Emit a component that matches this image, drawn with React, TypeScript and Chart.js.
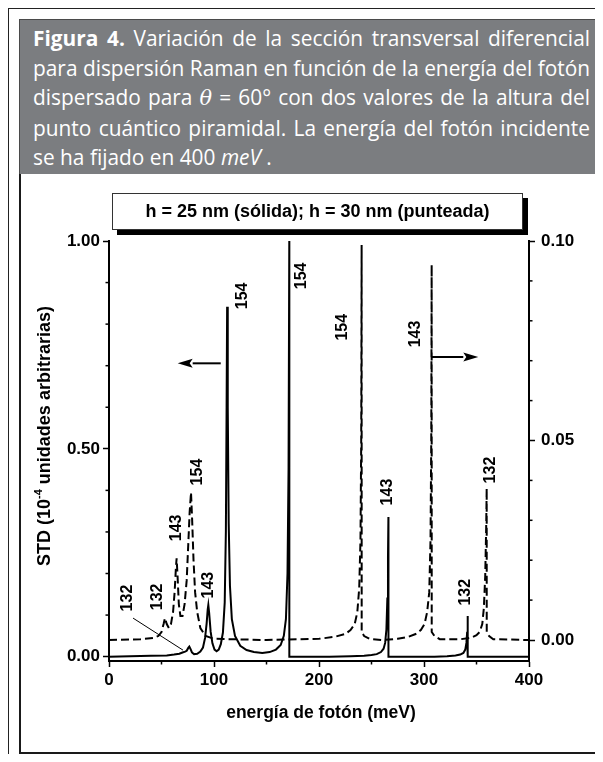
import React, { useEffect, useLayoutEffect, useRef, useState } from 'react';
import { Chart, registerables } from 'chart.js';
Chart.register(...registerables);

// ---- h = 25 nm (solid line, left axis, 10^-4 arb. units) ----
const solidEnergy = [0, 20, 40, 55, 62, 67, 70, 72.5, 74, 75.5, 76.5, 77.7, 79, 81, 84, 87, 89.5, 91.5, 93, 94, 94.6, 95.4, 96.8, 98.5, 100.5, 102.5, 104.5, 106.5, 108.5, 110.2, 111.3, 112, 112.5, 113.1, 114, 115.2, 117, 120, 125, 131, 138, 146, 153, 159, 163.5, 166.5, 168.5, 170, 171, 171.7, 171.75, 185, 210, 230, 243, 250, 255, 259, 261.5, 263, 264.2, 265.1, 265.7, 266.1, 266.15, 290, 310, 322, 330, 334.5, 337.5, 339.3, 340.4, 341.1, 341.6, 341.65, 400];
const solidSTD = [0, 0.001, 0.002, 0.003, 0.005, 0.007, 0.01, 0.012, 0.014, 0.021, 0.024, 0.018, 0.01, 0.006, 0.007, 0.012, 0.022, 0.045, 0.08, 0.113, 0.124, 0.105, 0.06, 0.032, 0.017, 0.013, 0.017, 0.03, 0.058, 0.13, 0.3, 0.6, 0.842, 0.6, 0.32, 0.17, 0.09, 0.05, 0.026, 0.016, 0.011, 0.009, 0.011, 0.017, 0.028, 0.05, 0.09, 0.2, 0.45, 1.0, 0, 0, 0, 0.001, 0.002, 0.004, 0.006, 0.011, 0.019, 0.033, 0.065, 0.14, 0.24, 0.336, 0, 0, 0, 0.001, 0.003, 0.005, 0.009, 0.017, 0.033, 0.06, 0.0975, 0, 0];

// ---- h = 30 nm (dashed line, right axis) ----
const dashedEnergy = [0, 30, 42, 47, 50, 52, 53.3, 55, 57, 59, 61, 62.5, 63.7, 64.4, 65.3, 66.5, 68, 70, 72, 74, 75.5, 76.8, 78.1, 79.2, 80.5, 82, 84, 87, 92, 100, 150, 200, 215, 225, 230, 234, 236.5, 238.3, 239.5, 240.2, 240.6, 240.65, 243, 248, 260, 275, 285, 292, 297, 300.5, 303, 305, 306.2, 306.9, 307.3, 307.35, 310, 315, 335, 345, 350, 353, 355.5, 357, 358.3, 359.2, 359.7, 359.75, 362, 366, 400];
const dashedSTD = [0, 0.0002, 0.0005, 0.001, 0.002, 0.004, 0.0055, 0.004, 0.003, 0.004, 0.007, 0.012, 0.018, 0.0205, 0.016, 0.009, 0.006, 0.006, 0.009, 0.015, 0.024, 0.032, 0.037, 0.03, 0.02, 0.012, 0.007, 0.003, 0.001, 0.0003, 0, 0.0003, 0.0008, 0.0015, 0.0025, 0.004, 0.007, 0.013, 0.025, 0.05, 0.099, 0.002, 0.001, 0.0003, 0, 0.0003, 0.0008, 0.0015, 0.0025, 0.004, 0.007, 0.012, 0.025, 0.05, 0.094, 0.002, 0.001, 0.0002, 0.0002, 0.0006, 0.0012, 0.002, 0.004, 0.008, 0.016, 0.028, 0.038, 0.002, 0.001, 0.0002, 0];

// ---- axes ----
const xTicks = [0, 100, 200, 300, 400];
const xMinorTicks = [50, 150, 250, 350];
const yLeftTicks = [0, 0.5, 1.0];
const yLeftMinorTicks = [0.1, 0.2, 0.3, 0.4, 0.6, 0.7, 0.8, 0.9];
const yRightTicks = [0, 0.05, 0.1];
const yRightMinorTicks = [0.01, 0.02, 0.03, 0.04, 0.06, 0.07, 0.08, 0.09];

// ---- peak annotations (phonon energies) ----
const solidLabelText = ['132', '143', '154', '154', '143', '132'];
const solidLabelEnergy = [18.1, 95.2, 127.6, 183.8, 265.7, 340.0];
const solidLabelValue = [0.141, 0.172, 0.868, 0.916, 0.396, 0.155];
const dashedLabelText = ['132', '143', '154', '154', '143', '132'];
const dashedLabelEnergy = [46.7, 64.8, 84.8, 222.9, 292.4, 363.8];
const dashedLabelValue = [0.0108, 0.0281, 0.0421, 0.0784, 0.0767, 0.0426];
const leaderEnergy = [22.9, 70.5];
const leaderValue = [0.0927, 0.0156];
const leftArrowEnergy = [106.4, 65.4];
const leftArrowValue = 0.7057;
const rightArrowEnergy = [307.3, 351.7];
const rightArrowValue = 0.0709;

const FONT = '"Liberation Sans", Arial, sans-serif';

const annotPlugin = {
  id: 'annot',
  afterDraw(chart: any) {
    const ctx = chart.ctx as CanvasRenderingContext2D;
    const xs = chart.scales.x;
    const yl = chart.scales.y;
    const yr = chart.scales.y1;
    const ca = chart.chartArea;
    ctx.save();
    ctx.strokeStyle = '#000';
    ctx.fillStyle = '#000';
    ctx.lineWidth = 1.5;
    const seg = (x1: number, y1: number, x2: number, y2: number) => {
      ctx.beginPath();
      ctx.moveTo(x1, y1);
      ctx.lineTo(x2, y2);
      ctx.stroke();
    };
    // minor ticks
    xMinorTicks.forEach((v) => { const p = xs.getPixelForValue(v); seg(p, ca.bottom, p, ca.bottom + 3.5); });
    yLeftMinorTicks.forEach((v) => { const p = yl.getPixelForValue(v); seg(ca.left, p, ca.left - 3.5, p); });
    yRightMinorTicks.forEach((v) => { const p = yr.getPixelForValue(v); seg(ca.right, p, ca.right + 3.5, p); });

    // rotated peak labels
    ctx.font = `bold 16px ${FONT}`;
    ctx.textAlign = 'center';
    ctx.textBaseline = 'middle';
    const rot = (t: string, x: number, y: number) => {
      ctx.save();
      ctx.translate(x, y);
      ctx.rotate(-Math.PI / 2);
      ctx.fillText(t, 0, 0);
      ctx.restore();
    };
    solidLabelText.forEach((t, i) => rot(t, xs.getPixelForValue(solidLabelEnergy[i]), yl.getPixelForValue(solidLabelValue[i])));
    dashedLabelText.forEach((t, i) => rot(t, xs.getPixelForValue(dashedLabelEnergy[i]), yr.getPixelForValue(dashedLabelValue[i])));

    // leader line
    ctx.lineWidth = 1;
    seg(xs.getPixelForValue(leaderEnergy[0]), yl.getPixelForValue(leaderValue[0]), xs.getPixelForValue(leaderEnergy[1]), yl.getPixelForValue(leaderValue[1]));

    // arrows
    const arrow = (x1: number, x2: number, y: number) => {
      const dir = Math.sign(x2 - x1);
      const hl = 15, hw = 4.5;
      ctx.lineWidth = 2;
      seg(x1, y, x2 - dir * hl, y);
      ctx.beginPath();
      ctx.moveTo(x2, y);
      ctx.lineTo(x2 - dir * hl, y - hw);
      ctx.lineTo(x2 - dir * hl * 0.8, y);
      ctx.lineTo(x2 - dir * hl, y + hw);
      ctx.closePath();
      ctx.fill();
    };
    arrow(xs.getPixelForValue(leftArrowEnergy[0]), xs.getPixelForValue(leftArrowEnergy[1]), yl.getPixelForValue(leftArrowValue));
    arrow(xs.getPixelForValue(rightArrowEnergy[0]), xs.getPixelForValue(rightArrowEnergy[1]), yr.getPixelForValue(rightArrowValue));

    // x axis title
    ctx.font = `bold 17.5px ${FONT}`;
    ctx.textAlign = 'center';
    ctx.textBaseline = 'middle';
    ctx.fillText('energía de fotón (meV)', (ca.left + ca.right) / 2 + 2, ca.bottom + 52);

    // y axis title with superscript
    const big = `bold 18px ${FONT}`;
    const small = `bold 11px ${FONT}`;
    const p1 = 'STD (10';
    const p2 = '-4';
    const p3 = ' unidades arbitrarias)';
    ctx.font = big; const w1 = ctx.measureText(p1).width; const w3 = ctx.measureText(p3).width;
    ctx.font = small; const w2 = ctx.measureText(p2).width;
    const total = w1 + w2 + w3;
    ctx.save();
    ctx.translate(ca.left - 66, (ca.top + ca.bottom) / 2 - 15);
    ctx.rotate(-Math.PI / 2);
    ctx.textAlign = 'left';
    ctx.textBaseline = 'alphabetic';
    let x0 = -total / 2;
    ctx.font = big; ctx.fillText(p1, x0, 6.5); x0 += w1;
    ctx.font = small; ctx.fillText(p2, x0, -1.5); x0 += w2;
    ctx.font = big; ctx.fillText(p3, x0, 6.5);
    ctx.restore();

    ctx.restore();
  },
};

function ChartCanvas() {
  const ref = useRef<HTMLCanvasElement | null>(null);
  useEffect(() => {
    if (!ref.current) return;
    const tickFont = { family: FONT, size: 17, weight: 'bold' as const };
    const chart = new Chart(ref.current, {
      type: 'line',
      data: {
        datasets: [
          {
            label: 'h = 25 nm',
            data: solidEnergy.map((e, i) => ({ x: e, y: solidSTD[i] })),
            yAxisID: 'y',
            borderColor: '#000',
            borderWidth: 2,
            pointRadius: 0,
            tension: 0,
            fill: false,
          },
          {
            label: 'h = 30 nm',
            data: dashedEnergy.map((e, i) => ({ x: e, y: dashedSTD[i] })),
            yAxisID: 'y1',
            borderColor: '#000',
            borderWidth: 2,
            borderDash: [8, 4],
            pointRadius: 0,
            tension: 0,
            fill: false,
          },
        ],
      },
      options: {
        animation: false,
        responsive: false,
        devicePixelRatio: 1,
        layout: { padding: { top: 66, left: 0, right: 0, bottom: 0 } },
        plugins: { legend: { display: false }, tooltip: { enabled: false } },
        scales: {
          x: {
            type: 'linear',
            position: 'bottom',
            min: 0,
            max: 400,
            afterBuildTicks: (s: any) => { s.ticks = xTicks.map((v) => ({ value: v })); },
            afterFit: (s: any) => { s.height = 93; },
            grid: { drawOnChartArea: false, drawTicks: true, tickLength: 6, tickColor: '#000', tickWidth: 1.5 },
            border: { display: true, color: '#000', width: 2 },
            ticks: { color: '#000', font: tickFont, padding: 3, maxRotation: 0, callback: (v: any) => String(v) },
          },
          y: {
            type: 'linear',
            position: 'left',
            min: -0.0105,
            max: 1.0,
            afterBuildTicks: (s: any) => { s.ticks = yLeftTicks.map((v) => ({ value: v })); },
            afterFit: (s: any) => { s.width = 88; },
            grid: { drawOnChartArea: false, drawTicks: true, tickLength: 6, tickColor: '#000', tickWidth: 1.5 },
            border: { display: true, color: '#000', width: 2 },
            ticks: { color: '#000', font: tickFont, padding: 3, callback: (v: any) => Number(v).toFixed(2) },
          },
          y1: {
            type: 'linear',
            position: 'right',
            min: -0.00526,
            max: 0.1,
            afterBuildTicks: (s: any) => { s.ticks = yRightTicks.map((v) => ({ value: v })); },
            afterFit: (s: any) => { s.width = 70; },
            grid: { drawOnChartArea: false, drawTicks: true, tickLength: 6, tickColor: '#000', tickWidth: 1.5 },
            border: { display: true, color: '#000', width: 2 },
            ticks: { color: '#000', font: tickFont, padding: 6, callback: (v: any) => Number(v).toFixed(2) },
          },
        },
      },
      plugins: [annotPlugin],
    });
    return () => chart.destroy();
  }, []);
  return <canvas ref={ref} width={578} height={579} style={{ position: 'absolute', left: 21, top: 175, width: 578, height: 579 }} />;
}

const captionLines: React.ReactNode[] = [
  <><b>Figura 4.</b> Variación de la sección transversal diferencial</>,
  <>para dispersión Raman en función de la energía del fotón</>,
  <>dispersado para <i style={{ fontFamily: '"DejaVu Serif", serif' }}>θ</i> = 60° con dos valores de la altura del</>,
  <>punto cuántico piramidal. La energía del fotón incidente</>,
  <>se ha fijado en 400 <i>meV</i> .</>,
];

function Caption() {
  const measureRefs = useRef<(HTMLSpanElement | null)[]>([]);
  const [scale, setScale] = useState(0.88);
  const target = 557;
  useLayoutEffect(() => {
    const measure = () => {
      let maxW = 0;
      measureRefs.current.forEach((el, i) => {
        if (el && i < 4) maxW = Math.max(maxW, el.getBoundingClientRect().width);
      });
      if (maxW > 0) setScale(Math.min(1, target / maxW));
    };
    measure();
    if ((document as any).fonts && (document as any).fonts.ready) (document as any).fonts.ready.then(measure);
  }, []);
  const font: React.CSSProperties = { fontFamily: '"Open Sans", sans-serif', fontSize: 21, lineHeight: '29.5px', color: '#fff', whiteSpace: 'nowrap' };
  return (
    <div style={{ position: 'absolute', left: 19, top: 19, width: 580, height: 154, background: '#7b7d80', border: '1px solid #4a4a4a' }}>
      <div style={{ position: 'absolute', left: 0, top: 0, visibility: 'hidden' }}>
        {captionLines.map((l, i) => (
          <div key={i}><span ref={(el) => { measureRefs.current[i] = el; }} style={font}>{l}</span></div>
        ))}
      </div>
      <div style={{ position: 'absolute', left: 13, top: 4 }}>
        {captionLines.map((l, i) => (
          <div
            key={i}
            style={{
              ...font,
              width: target / scale,
              textAlign: 'left',
              textAlignLast: i < 4 ? 'justify' : 'left',
              transform: `scaleX(${scale})`,
              transformOrigin: 'left top',
            } as React.CSSProperties}
          >
            {l}
          </div>
        ))}
      </div>
    </div>
  );
}

export default function App() {
  return (
    <div style={{ position: 'relative', margin: -8, width: 603, height: 762, overflow: 'hidden', background: '#fff' }}>
      <div style={{ position: 'absolute', left: 7, top: 7, width: 620, height: 800, borderLeft: '2px solid #222', borderTop: '2px solid #222' }} />
      <Caption />
      <div style={{ position: 'absolute', left: 19, top: 174, width: 578, height: 578, borderLeft: '2px solid #1a1a1a', borderRight: '2px solid #1a1a1a', borderBottom: '2px solid #1a1a1a', background: '#fff' }} />
      <ChartCanvas />
      <div
        style={{
          position: 'absolute',
          left: 112,
          top: 193,
          width: 409,
          height: 35,
          border: '1px solid #333',
          background: '#fff',
          boxShadow: '5px 5px 0 #000',
          fontFamily: FONT,
          fontWeight: 'bold',
          fontSize: 18,
          lineHeight: '35px',
          textAlign: 'center',
          color: '#000',
        }}
      >
        h = 25 nm (sólida); h = 30 nm (punteada)
      </div>
    </div>
  );
}
